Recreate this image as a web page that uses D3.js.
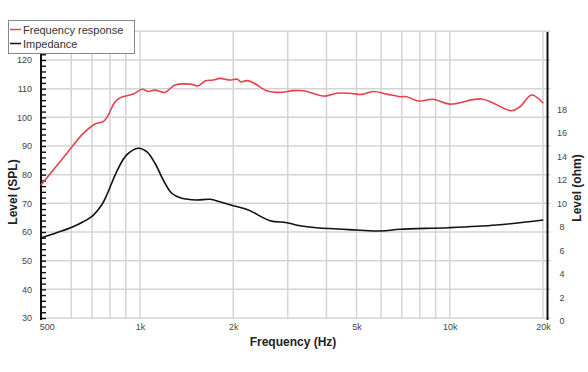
<!DOCTYPE html>
<html>
<head>
<meta charset="utf-8">
<script src="https://cdn.jsdelivr.net/npm/d3@7"></script>
<style>
  body { margin: 0; background: #fff; }
  svg { display: block; font-family: "Liberation Sans", Arial, sans-serif; }
</style>
</head>
<body>
<div id="chart"></div>
<script>
// Frequency response (Hz, dB SPL)
const splFreq = [479, 580, 656, 716, 761, 784, 831, 862, 951, 1017, 1064, 1118, 1204, 1297, 1450, 1543, 1621, 1724, 1812, 1952, 2062, 2113, 2210, 2321, 2564, 2830, 3124, 3366, 3955, 4314, 4763, 5195, 5664, 6256, 6907, 7259, 7912, 8845, 10010, 12680, 15840, 16850, 18380, 20040];
const splLevel = [76.4, 87.4, 94.4, 97.7, 98.5, 100.2, 105.4, 106.8, 108.1, 109.8, 109.0, 109.5, 108.7, 111.3, 111.6, 111.0, 112.7, 113.0, 113.6, 113.0, 113.3, 112.4, 112.8, 112.1, 109.3, 108.7, 109.3, 109.3, 107.4, 108.4, 108.4, 108.0, 109.0, 108.1, 107.2, 107.2, 105.7, 106.3, 104.6, 106.4, 102.3, 103.7, 107.8, 104.9];

// Impedance (Hz, ohm)
const impFreq = [476, 512, 552, 602, 656, 707, 752, 781, 810, 841, 906, 987, 1051, 1118, 1189, 1266, 1363, 1524, 1683, 1812, 2001, 2237, 2628, 2975, 3285, 3719, 5006, 5998, 6907, 9890, 14170, 20040];
const impOhm = [7.03, 7.31, 7.60, 7.97, 8.44, 9.01, 9.86, 10.71, 11.71, 12.71, 14.12, 14.69, 14.40, 13.41, 11.99, 10.86, 10.43, 10.29, 10.35, 10.14, 9.80, 9.44, 8.53, 8.36, 8.10, 7.93, 7.74, 7.65, 7.80, 7.93, 8.16, 8.59];

const xTicks = [500, 1000, 2000, 5000, 10000, 20000];
const xTickLabels = ["500", "1k", "2k", "5k", "10k", "20k"];
const xGrid = [600, 700, 800, 900, 1000, 2000, 3000, 4000, 5000, 6000, 7000, 8000, 9000, 10000, 20000];
const splTicks = [30, 40, 50, 60, 70, 80, 90, 100, 110, 120];
const splGrid = [30, 40, 50, 60, 70, 80, 90, 100, 110, 120, 130];
const ohmTicks = [0, 2, 4, 6, 8, 10, 12, 14, 16, 18];

const plotLeft = 41, plotRight = 547.5, plotTop = 32, plotBottom = 318;

const svg = d3
  .select("#chart")
  .append("svg")
  .attr("width", 588)
  .attr("height", 372);

// Scales
const x = d3.scaleLog().domain([1000, 20000]).range([140, 543]);
const y = d3.scaleLinear().domain([30, 120]).range([318, 60]);
const yR = d3.scaleLinear().domain([0, 18]).range([321, 109.3]);

// Grid lines
svg
  .append("g")
  .selectAll("line")
  .data(splGrid)
  .enter()
  .append("line")
  .attr("x1", plotLeft)
  .attr("x2", plotRight + 3)
  .attr("y1", (d) => y(d))
  .attr("y2", (d) => y(d))
  .attr("stroke", "#d4d4d4")
  .attr("stroke-width", 1.5);

svg
  .append("g")
  .selectAll("line")
  .data(xGrid)
  .enter()
  .append("line")
  .attr("x1", (d) => x(d))
  .attr("x2", (d) => x(d))
  .attr("y1", plotTop)
  .attr("y2", plotBottom + 1)
  .attr("stroke", "#d4d4d4")
  .attr("stroke-width", 1.5);

// Left axis: ladder of ticks every 2 dB
svg
  .append("g")
  .attr("transform", `translate(${plotLeft},0)`)
  .call(d3.axisRight(y).tickValues(d3.range(30, 131, 2)).tickSize(5).tickFormat(""))
  .call((g) => g.select(".domain").remove())
  .selectAll("line")
  .attr("stroke", "#111")
  .attr("stroke-width", 1.4);

svg
  .append("line")
  .attr("x1", plotLeft)
  .attr("x2", plotLeft)
  .attr("y1", plotTop)
  .attr("y2", plotBottom + 2)
  .attr("stroke", "#111")
  .attr("stroke-width", 2);

svg
  .append("g")
  .attr("transform", `translate(${plotLeft - 6},0)`)
  .call(d3.axisLeft(y).tickValues(splTicks).tickSize(0))
  .call((g) => g.select(".domain").remove())
  .selectAll("text")
  .attr("fill", "#444")
  .style("font-size", "9px");

// Right axis
svg
  .append("line")
  .attr("x1", plotRight)
  .attr("x2", plotRight)
  .attr("y1", plotTop)
  .attr("y2", plotBottom + 2)
  .attr("stroke", "#111")
  .attr("stroke-width", 2);

svg
  .append("g")
  .attr("transform", `translate(562,0)`)
  .call(d3.axisRight(yR).tickValues(ohmTicks).tickSize(0).tickPadding(0))
  .call((g) => g.select(".domain").remove())
  .selectAll("text")
  .attr("text-anchor", "middle")
  .attr("fill", "#444")
  .style("font-size", "9px");

// Bottom axis labels
svg
  .append("g")
  .attr("transform", `translate(0,${plotBottom})`)
  .call(
    d3.axisBottom(x).tickValues(xTicks).tickSize(0).tickPadding(6)
      .tickFormat((d, i) => xTickLabels[i])
  )
  .call((g) => g.select(".domain").remove())
  .selectAll("text")
  .attr("fill", "#444")
  .style("font-size", "9px");

// Curves
const splLine = d3
  .line()
  .x((d, i) => x(splFreq[i]))
  .y((d) => y(d))
  .curve(d3.curveCatmullRom);

const impLine = d3
  .line()
  .x((d, i) => x(impFreq[i]))
  .y((d) => yR(d))
  .curve(d3.curveCatmullRom);

svg
  .append("path")
  .datum(impOhm)
  .attr("d", impLine)
  .attr("fill", "none")
  .attr("stroke", "#111")
  .attr("stroke-width", 1.6);

svg
  .append("path")
  .datum(splLevel)
  .attr("d", splLine)
  .attr("fill", "none")
  .attr("stroke", "#e8414a")
  .attr("stroke-width", 1.6);

// Axis titles
svg
  .append("text")
  .attr("x", 293)
  .attr("y", 346)
  .attr("text-anchor", "middle")
  .attr("font-weight", "bold")
  .attr("fill", "#222")
  .style("font-size", "12px")
  .text("Frequency (Hz)");

svg
  .append("text")
  .attr("transform", "translate(17,192) rotate(-90)")
  .attr("text-anchor", "middle")
  .attr("font-weight", "bold")
  .attr("fill", "#222")
  .style("font-size", "12px")
  .text("Level (SPL)");

svg
  .append("text")
  .attr("transform", "translate(581,188) rotate(-90)")
  .attr("text-anchor", "middle")
  .attr("font-weight", "bold")
  .attr("fill", "#222")
  .style("font-size", "12px")
  .text("Level (ohm)");

// Legend
const legend = svg.append("g");
legend
  .append("rect")
  .attr("x", 8.5)
  .attr("y", 20.5)
  .attr("width", 126)
  .attr("height", 33)
  .attr("fill", "#fff")
  .attr("stroke", "#888");

const legendItems = [
  { label: "Frequency response", color: "#e8414a" },
  { label: "Impedance", color: "#111" },
];

legendItems.forEach((item, i) => {
  legend
    .append("line")
    .attr("x1", 10)
    .attr("x2", 21)
    .attr("y1", 29.5 + i * 14)
    .attr("y2", 29.5 + i * 14)
    .attr("stroke", item.color)
    .attr("stroke-width", 1.5);
  legend
    .append("text")
    .attr("x", 23)
    .attr("y", 33.5 + i * 14)
    .attr("fill", "#333")
    .style("font-size", "11px")
    .text(item.label);
});
</script>
</body>
</html>
